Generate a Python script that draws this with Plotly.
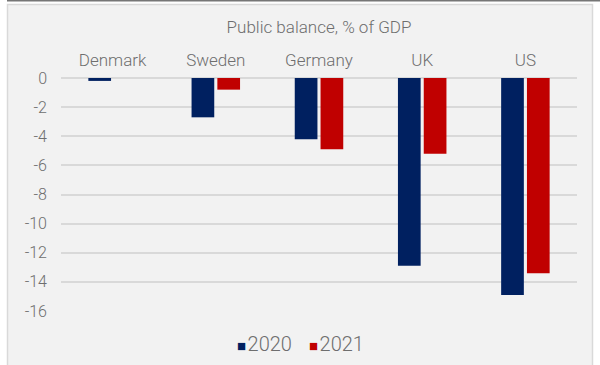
import plotly.graph_objects as go

categories = ["Denmark", "Sweden", "Germany", "UK", "US"]
values_2020 = [-0.2, -2.7, -4.2, -12.9, -14.9]
values_2021 = [None, -0.8, -4.9, -5.2, -13.4]
tick_vals = [0, -2, -4, -6, -8, -10, -12, -14, -16]
tick_text = ["0", "-2", "-4", "-6", "-8", "-10", "-12", "-14", "-16"]
series_names = ["2020", "2021"]
series_colors = ["#002060", "#c00000"]

FONT = "Roboto"
TXT = "#6e6e6e"

fig = go.Figure()
for name, vals, col in zip(series_names, [values_2020, values_2021], series_colors):
    fig.add_trace(go.Bar(name=name, x=categories, y=vals, marker_color=col,
                         marker_line_width=0, showlegend=False))

L, R, T, B = 61, 23, 78, 54
W, H = 600, 365
pw, ph = W - L - R, H - T - B

def px(x):
    return (x - L) / pw

def py(y):
    return 1 - (y - T) / ph

legend_x = [235, 307]
annotations = []
for name, col, lx in zip(series_names, series_colors, legend_x):
    annotations.append(dict(
        xref="paper", yref="paper", x=px(lx), y=py(343.5), xanchor="left", yanchor="middle",
        showarrow=False,
        text=(f"<span style='color:{col};font-size:15px;font-family:DejaVu Sans'>■</span>"
              f"<span style='font-size:6px'>&nbsp;</span>{name}"),
        font=dict(size=20, color=TXT, family=FONT, weight=300),
    ))

fig.update_layout(
    width=W, height=H,
    margin=dict(l=L, r=R, t=T, b=B, autoexpand=False),
    paper_bgcolor="white",
    plot_bgcolor="#f2f2f2",
    barmode="group", bargap=0.5, bargroupgap=0.12,
    font=dict(family=FONT, color=TXT, size=16, weight=300),
    title=dict(text="Public balance, % of GDP", x=0.5, xref="paper", xanchor="center",
               y=1 - 27 / H, yanchor="middle",
               font=dict(size=17, color=TXT, family=FONT, weight=300)),
    showlegend=False,
    annotations=annotations,
    shapes=[
        dict(type="rect", xref="paper", yref="paper", x0=px(7.5), x1=px(592.5),
             y0=py(4.5), y1=py(366), fillcolor="#f2f2f2", line=dict(color="#d9d9d9", width=1.5),
             layer="below"),
        dict(type="line", xref="paper", yref="paper", x0=px(7), x1=px(601),
             y0=py(0.7), y1=py(0.7), line=dict(color="#767676", width=1.5)),
    ],
)
fig.update_xaxes(side="top", showgrid=False, showline=False, zeroline=False, automargin=False,
                 tickfont=dict(size=17, color=TXT, family=FONT, weight=300), ticks="",
                 ticklabelstandoff=8)
fig.update_yaxes(range=[-16, 0], tickvals=tick_vals, ticktext=tick_text, showgrid=True,
                 gridcolor="#d9d9d9", gridwidth=1.5, zeroline=True, zerolinecolor="#d9d9d9",
                 zerolinewidth=1.5, showline=False, automargin=False,
                 tickfont=dict(size=16, color=TXT, family=FONT, weight=300),
                 ticklabelstandoff=13)

fig.write_html("out.html", config={"displayModeBar": False},
               post_script="document.body.style.margin='0px';document.body.style.overflow='hidden';")
